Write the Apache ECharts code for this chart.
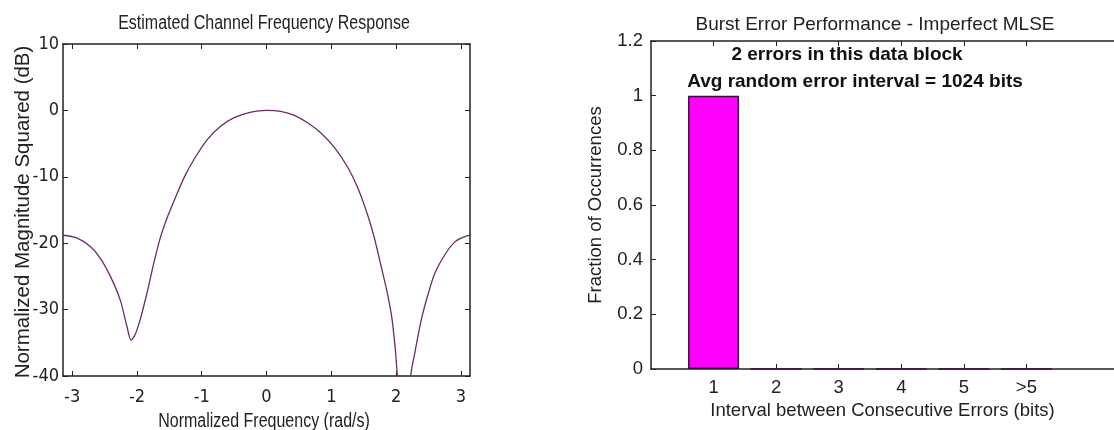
<!DOCTYPE html>
<html>
<head>
<meta charset="utf-8">
<script src="https://cdn.jsdelivr.net/npm/echarts@6/dist/echarts.min.js"></script>
<style>
html,body{margin:0;padding:0;background:#fff;}
#c{width:1114px;height:430px;}
</style>
</head>
<body>
<div id="c"></div>
<script>
// ---- Left panel data: estimated channel frequency response ----
var freqX = [-3.1416, -2.93, -2.72, -2.57, -2.41, -2.26, -2.155, -2.09, -2.03, -1.95, -1.845, -1.74, -1.64,
  -1.535, -1.43, -1.276, -1.12, -0.915, -0.708, -0.50, -0.24, 0, 0.22, 0.43, 0.64, 0.84, 1.05, 1.256,
  1.41, 1.566, 1.67, 1.77, 1.876, 1.95, 2.02, 2.12, 2.227, 2.29, 2.39, 2.50, 2.60, 2.755, 2.91, 3.065, 3.1416];
var magDb = [-18.8, -19.2, -20.5, -22.2, -25.0, -28.5, -32.5, -34.6, -33.8, -31.5, -27.5, -23.0, -19.2,
  -16.2, -13.7, -10.2, -7.4, -4.4, -2.4, -1.1, -0.25, 0, -0.15, -0.75, -1.9, -3.4, -5.6, -8.6,
  -11.7, -15.9, -19.4, -23.5, -28.0, -32.3, -40.0, -60.0, -40.0, -36.5, -31.5, -27.5, -24.5, -21.7, -19.8, -19.0, -18.8];
var freqTicks = [-3, -2, -1, 0, 1, 2, 3];

// ---- Right panel data: burst error histogram ----
var intervalCats = ['1', '2', '3', '4', '5', '>5'];
var fraction = [1, 0, 0, 0, 0, 0];

var leftTitle = 'Estimated Channel Frequency Response';
var leftXName = 'Normalized Frequency (rad/s)';
var leftYName = 'Normalized Magnitude Squared (dB)';
var rightTitle = 'Burst Error Performance - Imperfect MLSE';
var rightXName = 'Interval between Consecutive Errors (bits)';
var rightYName = 'Fraction of Occurrences';
var note1 = '2 errors in this data block';
var note2 = 'Avg random error interval = 1024 bits';

var narrow = '"DejaVu Sans Condensed", "Liberation Sans", sans-serif';
var reg = '"Liberation Sans", Arial, sans-serif';

var lineXY = freqX.map(function (x, i) { return [x, magDb[i]]; });
var barXY = fraction.map(function (v, i) { return [i + 1, v]; });
var catPos = intervalCats.map(function (c, i) { return i + 1; });

var axCol = '#222';
var chart = echarts.init(document.getElementById('c'));
chart.setOption({
  backgroundColor: '#fff',
  animation: false,
  title: [
    { text: rightTitle, left: 870, top: 10, textAlign: 'center',
      textStyle: { fontFamily: reg, fontSize: 19, fontWeight: 'normal', color: '#222' } }
  ],
  grid: [
    { left: 63, top: 44, width: 407, height: 332 },
    { left: 651, top: 41, width: 469, height: 328 }
  ],
  xAxis: [
    { gridIndex: 0, type: 'value', min: -Math.PI, max: Math.PI, position: 'bottom',
      axisLine: { show: true, onZero: false, lineStyle: { color: axCol, width: 1.5 } },
      axisTick: { show: true, inside: true, length: 5, customValues: freqTicks, lineStyle: { color: axCol } },
      axisLabel: { show: true, customValues: freqTicks, margin: 12, fontFamily: narrow, fontSize: 18, color: '#222' },
      splitLine: { show: false } },
    { gridIndex: 0, type: 'value', min: -Math.PI, max: Math.PI, position: 'top',
      axisLine: { show: true, onZero: false, lineStyle: { color: axCol, width: 1.5 } },
      axisTick: { show: true, inside: true, length: 5, customValues: freqTicks, lineStyle: { color: axCol } },
      axisLabel: { show: false }, splitLine: { show: false } },
    { gridIndex: 1, type: 'value', min: 0, max: 7.4, position: 'bottom',
      name: rightXName, nameLocation: 'middle', nameGap: 30,
      nameTextStyle: { fontFamily: reg, fontSize: 18.5, color: '#222', align: 'center' },
      axisLine: { show: true, onZero: false, lineStyle: { color: axCol, width: 1.5 } },
      axisTick: { show: true, inside: true, length: 5, customValues: catPos, lineStyle: { color: axCol } },
      axisLabel: { show: true, customValues: catPos, margin: 9, fontFamily: reg, fontSize: 18.5, color: '#222',
        formatter: function (v) { return intervalCats[Math.round(v) - 1] || ''; } },
      splitLine: { show: false } },
    { gridIndex: 1, type: 'value', min: 0, max: 7.4, position: 'top',
      axisLine: { show: true, onZero: false, lineStyle: { color: axCol, width: 1.5 } },
      axisTick: { show: true, inside: true, length: 5, customValues: catPos, lineStyle: { color: axCol } },
      axisLabel: { show: false }, splitLine: { show: false } }
  ],
  yAxis: [
    { gridIndex: 0, type: 'value', min: -40, max: 10, interval: 10, position: 'left',
      axisLine: { show: true, onZero: false, lineStyle: { color: axCol, width: 1.5 } },
      axisTick: { show: true, inside: true, length: 5, lineStyle: { color: axCol } },
      axisLabel: { show: true, margin: 4, fontFamily: narrow, fontSize: 18, color: '#222' },
      splitLine: { show: false } },
    { gridIndex: 0, type: 'value', min: -40, max: 10, interval: 10, position: 'right',
      axisLine: { show: true, onZero: false, lineStyle: { color: axCol, width: 1.5 } },
      axisTick: { show: true, inside: true, length: 5, lineStyle: { color: axCol } },
      axisLabel: { show: false }, splitLine: { show: false } },
    { gridIndex: 1, type: 'value', min: 0, max: 1.2, interval: 0.2, position: 'left',
      name: rightYName, nameLocation: 'middle', nameGap: 46,
      nameTextStyle: { fontFamily: reg, fontSize: 18.5, color: '#222' },
      axisLine: { show: true, onZero: false, lineStyle: { color: axCol, width: 1.5 } },
      axisTick: { show: true, inside: true, length: 5, lineStyle: { color: axCol } },
      axisLabel: { show: true, margin: 8, fontFamily: reg, fontSize: 18.5, color: '#222' },
      splitLine: { show: false } }
  ],
  graphic: [
    { type: 'text', x: 264, y: 23, scaleX: 0.8, style: { text: leftTitle,
      font: '20px "Liberation Sans", Arial, sans-serif', fill: '#222', align: 'center', verticalAlign: 'middle' } },
    { type: 'text', x: 264, y: 421, scaleX: 0.8, style: { text: leftXName,
      font: '20px "Liberation Sans", Arial, sans-serif', fill: '#222', align: 'center', verticalAlign: 'middle' } },
    { type: 'text', x: 23, y: 212, rotation: Math.PI / 2, style: { text: leftYName,
      font: '20.5px "Liberation Sans", Arial, sans-serif', fill: '#222', align: 'center', verticalAlign: 'middle' } },
    { type: 'text', x: 847, y: 55, style: { text: note1,
      font: 'bold 19px "Liberation Sans", Arial, sans-serif', fill: '#111', align: 'center', verticalAlign: 'middle' } },
    { type: 'text', x: 855, y: 82, style: { text: note2,
      font: 'bold 19px "Liberation Sans", Arial, sans-serif', fill: '#111', align: 'center', verticalAlign: 'middle' } }
  ],
  series: [
    { type: 'line', xAxisIndex: 0, yAxisIndex: 0, data: lineXY, smooth: 0.3, showSymbol: false, clip: true,
      lineStyle: { color: '#6a2c6a', width: 1.3 } },
    { type: 'bar', xAxisIndex: 2, yAxisIndex: 2, data: barXY, barWidth: 51,
      itemStyle: { color: '#ff00ff', borderColor: '#3a0a3a', borderWidth: 1.5 } }
  ]
});
</script>
</body>
</html>
